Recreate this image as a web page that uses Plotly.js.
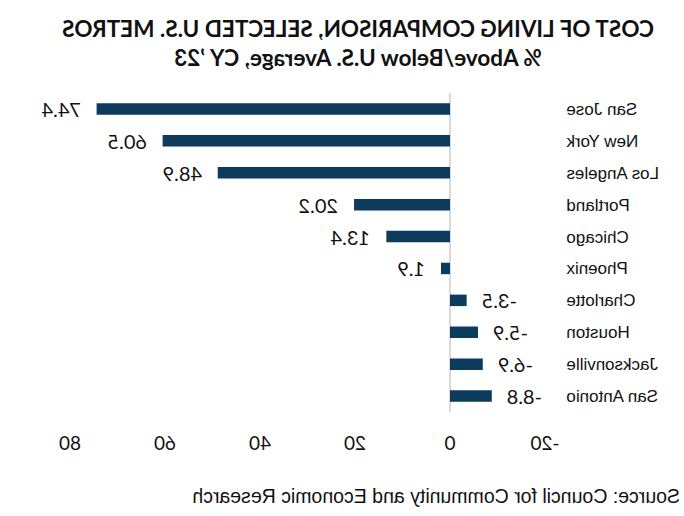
<!DOCTYPE html>
<html>
<head>
<meta charset="utf-8">
<script src="https://cdn.plot.ly/plotly-3.0.1.min.js"></script>
<style>
  html, body { margin: 0; padding: 0; background: #ffffff; overflow: hidden; }
  #chart { width: 684px; height: 516px; transform: scaleX(-1); transform-origin: center center; }
</style>
</head>
<body>
<div id="chart"></div>
<script>
// Data (the reference image is horizontally mirrored)
const cities = ["San Jose", "New York", "Los Angeles", "Portland", "Chicago",
                "Phoenix", "Charlotte", "Houston", "Jacksonville", "San Antonio"];
const pctVsUS = [74.4, 60.5, 48.9, 20.2, 13.4, 1.9, -3.5, -5.9, -6.9, -8.8];
const xTicks = [-20, 0, 20, 40, 60, 80];
const titleLine1 = "COST OF LIVING COMPARISON, SELECTED U.S. METROS";
const titleLine2 = "% Above/Below U.S. Average, CY \u201923";
const sourceText = "Source: Council for Community and Economic Research";

const barColor = "#0c3b5d";

const trace = {
  type: "bar",
  orientation: "h",
  x: pctVsUS,
  y: cities,
  width: 0.36,
  marker: { color: barColor },
  hoverinfo: "skip"
};

const valueLabels = pctVsUS.map((v, i) => ({
  x: v,
  y: cities[i],
  xref: "x",
  yref: "y",
  text: v.toFixed(1),
  showarrow: false,
  xanchor: v >= 0 ? "left" : "right",
  xshift: v >= 0 ? 14 : -13,
  font: { family: "Lato, 'Noto Sans', sans-serif", size: 20, color: "#111111" }
}));

const layout = {
  width: 684,
  height: 516,
  margin: { l: 139, r: 70, t: 93, b: 103.5, pad: 0 },
  paper_bgcolor: "#ffffff",
  plot_bgcolor: "#ffffff",
  showlegend: false,
  title: {
    text: "<b>" + titleLine1 + "</b><br><b>" + titleLine2 + "</b>",
    x: 326 / 684,
    xanchor: "center",
    xref: "container",
    y: 0.928,
    yanchor: "top",
    yref: "container",
    font: { family: "Lato, 'Open Sans', sans-serif", size: 22.5, color: "#111111" }
  },
  xaxis: {
    range: [-20, 80],
    tickvals: xTicks,
    ticktext: xTicks.map(String),
    showgrid: false,
    showline: false,
    zeroline: true,
    zerolinecolor: "#d9d9d9",
    zerolinewidth: 1.5,
    ticks: "outside",
    ticklen: 14,
    tickcolor: "rgba(0,0,0,0)",
    tickfont: { family: "Lato, 'Noto Sans', sans-serif", size: 19, color: "#111111" },
    fixedrange: true
  },
  yaxis: {
    type: "category",
    categoryorder: "array",
    categoryarray: cities,
    autorange: "reversed",
    showgrid: false,
    showline: false,
    zeroline: false,
    ticks: "outside",
    ticklen: 17,
    tickcolor: "rgba(0,0,0,0)",
    tickfont: { family: "'Liberation Sans', Arial, sans-serif", size: 17, color: "#111111" },
    fixedrange: true
  },
  annotations: valueLabels.concat([{
    xref: "paper",
    yref: "paper",
    x: (2 - 139) / 475,
    y: (412.5 - 497) / 320,
    xanchor: "left",
    yanchor: "middle",
    text: sourceText,
    showarrow: false,
    font: { family: "'Liberation Sans', Arial, sans-serif", size: 19.5, color: "#111111" }
  }])
};

Plotly.newPlot("chart", [trace], layout, { displayModeBar: false, staticPlot: true });
</script>
</body>
</html>
